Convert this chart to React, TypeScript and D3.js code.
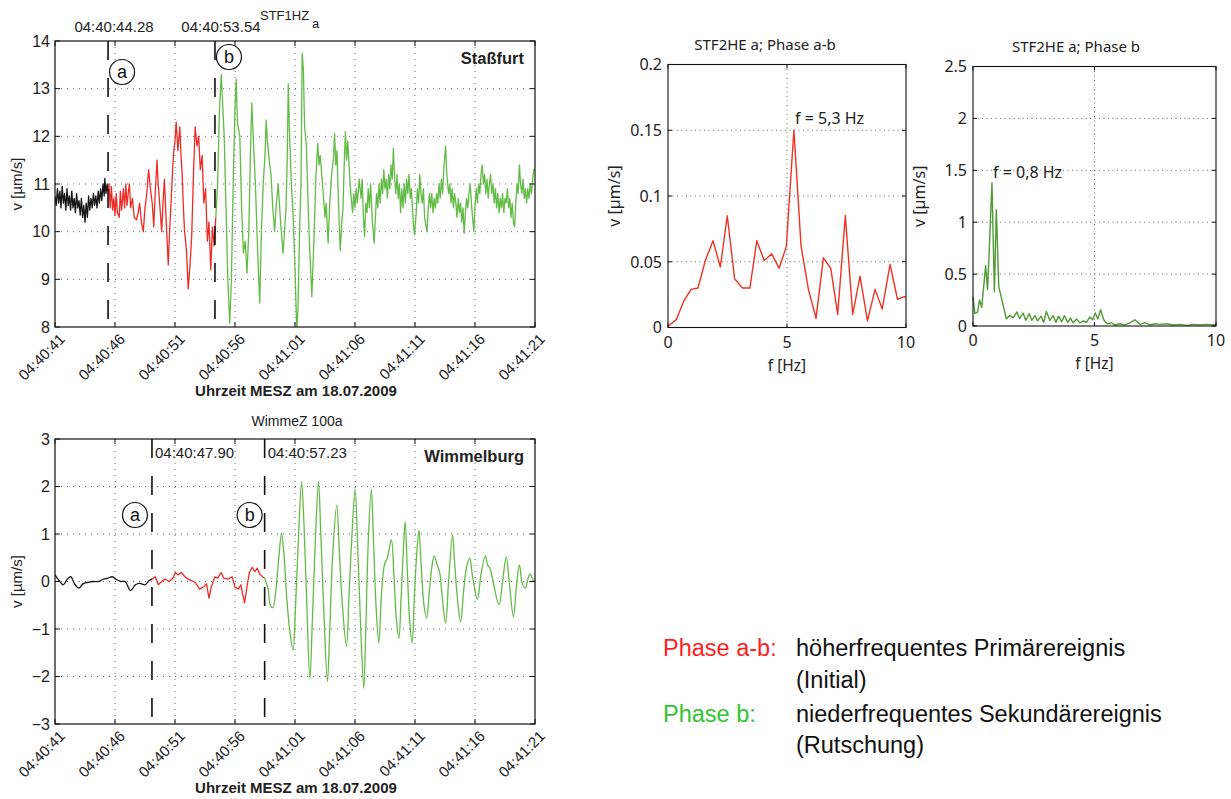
import * as d3 from "d3";

const SANS = "'Liberation Sans', Arial, sans-serif";
const SPEC_FONT = "'Noto Sans', sans-serif";
const INK = "#222";

// time axis (seconds after 04:40:41)
const timeTickSec = [0, 5, 10, 15, 20, 25, 30, 35, 40];
const timeTickLabels = ["04:40:41", "04:40:46", "04:40:51", "04:40:56", "04:41:01", "04:41:06", "04:41:11", "04:41:16", "04:41:21"];
const staYTicks = [8, 9, 10, 11, 12, 13, 14];
const wimYTicks = [-3, -2, -1, 0, 1, 2, 3];

// Staßfurt, STF1HZ a  [t (s), v (µm/s)]
const staBlack: [number, number][] = [
  [0, 10.75], [0.1, 10.55], [0.2, 10.9], [0.3, 10.6], [0.4, 10.85], [0.5, 10.5], [0.6, 10.95], [0.7, 10.6],
  [0.8, 10.8], [0.9, 10.45], [1.0, 10.9], [1.1, 10.55], [1.2, 10.75], [1.3, 10.45], [1.4, 10.85], [1.5, 10.5],
  [1.6, 10.7], [1.7, 10.4], [1.8, 10.8], [1.9, 10.5], [2.0, 10.65], [2.1, 10.35], [2.2, 10.7], [2.3, 10.3],
  [2.4, 10.55], [2.5, 10.2], [2.6, 10.6], [2.7, 10.3], [2.8, 10.75], [2.9, 10.45], [3.0, 10.7], [3.1, 10.5],
  [3.2, 10.8], [3.3, 10.55], [3.4, 10.75], [3.5, 10.5], [3.6, 10.85], [3.7, 10.6], [3.8, 10.9], [3.9, 10.65],
  [4.0, 11.0], [4.1, 10.75], [4.15, 11.12], [4.25, 10.8], [4.35, 11.0], [4.42, 10.85],
];
const staRed: [number, number][] = [
  [4.42, 10.85], [4.5, 11.0], [4.6, 10.5], [4.7, 10.95], [4.8, 10.45], [4.9, 10.7], [5.0, 10.35], [5.1, 10.8],
  [5.2, 10.4], [5.35, 10.3], [5.45, 10.85], [5.55, 10.45], [5.7, 10.9], [5.8, 10.5], [5.9, 11.0], [6.0, 10.55],
  [6.1, 10.8], [6.2, 11.0], [6.3, 10.5], [6.45, 10.7], [6.6, 10.3], [6.79, 10.25], [6.93, 10.4], [7.05, 10.6],
  [7.2, 10.2], [7.36, 10.0], [7.5, 10.5], [7.65, 10.8], [7.8, 11.3], [7.95, 10.9], [8.1, 10.6], [8.23, 10.1],
  [8.35, 10.8], [8.5, 11.5], [8.6, 11.0], [8.75, 10.5], [8.89, 10.0], [9.0, 10.6], [9.12, 11.1], [9.25, 10.3],
  [9.44, 9.3], [9.55, 10.0], [9.67, 10.6], [9.8, 11.3], [9.9, 11.7], [10.0, 11.9], [10.1, 12.3], [10.24, 11.7],
  [10.4, 12.2], [10.5, 11.6], [10.6, 11.2], [10.7, 10.5], [10.8, 10.0], [10.96, 9.6], [11.1, 8.8], [11.25, 9.3],
  [11.39, 9.9], [11.54, 11.2], [11.68, 12.2], [11.83, 11.8], [11.97, 12.0], [12.11, 11.3], [12.26, 11.6], [12.4, 10.6],
  [12.55, 10.9], [12.7, 9.8], [12.83, 10.2], [12.98, 9.2], [13.12, 10.1], [13.26, 9.7], [13.4, 10.3],
];
const staGreen: [number, number][] = [
  [13.4, 10.3], [13.55, 11.0], [13.7, 12.5], [13.85, 13.3], [13.95, 12.8], [14.1, 12.0], [14.25, 10.5], [14.4, 9.0],
  [14.56, 8.08], [14.7, 9.0], [14.85, 11.0], [15.0, 12.6], [15.1, 13.2], [15.2, 12.3], [15.4, 12.0], [15.55, 10.5],
  [15.7, 9.55], [15.85, 9.8], [16.0, 9.13], [16.15, 10.0], [16.3, 11.8], [16.4, 12.7], [16.55, 11.8], [16.7, 11.0],
  [16.9, 9.5], [17.06, 8.5], [17.2, 10.0], [17.35, 11.0], [17.5, 11.6], [17.6, 12.34], [17.7, 11.9], [17.85, 11.5],
  [18.0, 11.2], [18.15, 10.5], [18.3, 10.0], [18.45, 10.6], [18.6, 11.0], [18.7, 10.6], [18.8, 10.2], [19.0, 9.55],
  [19.1, 9.9], [19.25, 10.5], [19.35, 11.5], [19.44, 13.1], [19.55, 12.0], [19.7, 11.0], [19.85, 10.3], [20.0, 9.2],
  [20.15, 7.9], [20.25, 8.4], [20.4, 10.2], [20.5, 11.0], [20.6, 13.74], [20.7, 13.4], [20.8, 12.2], [20.95, 11.8],
  [21.1, 10.5], [21.2, 9.8], [21.4, 8.64], [21.5, 9.3], [21.6, 10.0], [21.75, 11.2], [21.9, 11.85], [22.0, 11.4],
  [22.1, 11.6], [22.2, 11.3], [22.35, 10.8], [22.5, 10.3], [22.6, 10.6], [22.76, 9.76], [22.9, 10.6], [23.05, 11.2],
  [23.2, 11.5], [23.3, 12.06], [23.4, 11.4], [23.5, 11.7], [23.6, 10.8], [23.77, 9.6], [23.9, 10.2], [24.0, 10.5],
  [24.1, 11.4], [24.2, 12.1], [24.3, 11.5], [24.4, 11.9], [24.55, 11.2], [24.65, 10.8], [24.8, 10.4], [24.9, 10.8],
  [25.0, 10.5], [25.1, 10.9], [25.2, 10.6], [25.35, 11.1], [25.5, 10.7], [25.6, 11.1], [25.7, 10.3], [25.8, 9.9],
  [25.9, 10.6], [26.0, 10.4], [26.1, 10.9], [26.2, 10.5], [26.3, 11.0], [26.45, 10.2], [26.6, 9.76], [26.7, 10.3],
  [26.8, 10.8], [26.9, 10.5], [27.0, 11.0], [27.1, 10.6], [27.2, 11.1], [27.3, 10.8], [27.4, 11.3], [27.5, 10.9],
  [27.6, 11.1], [27.7, 10.7], [27.8, 11.2], [27.9, 10.9], [28.0, 11.4], [28.1, 11.1], [28.2, 11.75], [28.3, 11.1],
  [28.4, 10.8], [28.5, 11.2], [28.6, 10.7], [28.7, 11.0], [28.8, 10.4], [28.9, 10.9], [29.0, 10.5], [29.1, 11.0],
  [29.2, 10.6], [29.3, 11.1], [29.4, 10.8], [29.5, 11.2], [29.6, 10.7], [29.7, 10.9], [29.85, 10.2], [29.96, 9.93],
  [30.1, 10.4], [30.2, 10.9], [30.3, 10.6], [30.4, 11.2], [30.5, 10.8], [30.6, 10.6], [30.7, 10.9], [30.8, 10.3],
  [31.0, 10.0], [31.1, 10.5], [31.2, 10.8], [31.3, 10.5], [31.4, 10.8], [31.5, 10.4], [31.6, 10.7], [31.7, 10.5],
  [31.8, 10.8], [31.9, 10.6], [32.0, 11.0], [32.1, 10.7], [32.2, 11.1], [32.3, 10.8], [32.4, 11.3], [32.55, 11.8],
  [32.65, 11.2], [32.8, 10.8], [32.9, 11.0], [33.0, 10.6], [33.1, 10.9], [33.2, 10.5], [33.3, 10.8], [33.4, 10.6],
  [33.5, 10.3], [33.6, 10.7], [33.7, 10.4], [33.8, 10.6], [33.9, 10.2], [34.0, 10.5], [34.1, 9.97], [34.2, 10.4],
  [34.3, 10.7], [34.4, 10.5], [34.5, 10.8], [34.6, 11.0], [34.7, 10.6], [34.8, 10.3], [34.9, 10.0], [35.0, 10.5],
  [35.1, 10.9], [35.2, 10.6], [35.3, 11.0], [35.4, 10.8], [35.5, 11.2], [35.6, 11.4], [35.7, 11.0], [35.8, 11.2],
  [35.9, 10.8], [36.0, 11.1], [36.1, 10.7], [36.2, 11.0], [36.3, 11.2], [36.4, 10.8], [36.5, 11.0], [36.6, 10.6],
  [36.7, 10.9], [36.8, 10.5], [36.9, 10.8], [37.0, 10.4], [37.1, 10.7], [37.2, 10.5], [37.3, 10.8], [37.4, 10.4],
  [37.5, 10.7], [37.6, 10.6], [37.7, 10.9], [37.8, 10.5], [37.9, 10.7], [38.0, 10.3], [38.1, 10.6], [38.2, 10.2],
  [38.3, 10.1], [38.4, 10.6], [38.5, 11.0], [38.6, 10.8], [38.7, 11.4], [38.8, 11.0], [38.9, 10.8], [39.0, 11.1],
  [39.1, 10.7], [39.2, 10.9], [39.3, 10.6], [39.4, 10.9], [39.5, 10.7], [39.6, 11.0], [39.7, 10.8], [39.8, 11.1],
  [39.9, 11.3], [40.0, 11.3],
];

// Wimmelburg, WimmeZ 100a
const wimBlack: [number, number][] = [
  [0, 0.14], [0.31, 0.03], [0.69, -0.07], [1.03, 0.05], [1.32, 0.1], [1.61, -0.04], [1.98, -0.14], [2.33, -0.05],
  [2.76, -0.02], [3.19, 0.0], [3.62, 0.0], [4.05, 0.05], [4.4, 0.07], [4.77, 0.1], [5.06, 0.05], [5.49, 0.0],
  [5.84, 0.0], [6.3, -0.19], [6.7, -0.07], [7.07, -0.04], [7.5, -0.07], [7.85, 0.02], [8.08, 0.05],
];
const wimRed: [number, number][] = [
  [8.08, 0.05], [8.37, 0.1], [8.6, -0.07], [8.89, 0.0], [9.18, 0.05], [9.52, 0.0], [9.81, 0.07], [10.04, 0.19],
  [10.24, 0.14], [10.53, 0.19], [10.82, 0.1], [11.1, 0.05], [11.39, 0.02], [11.68, -0.02], [12.05, -0.16], [12.4, -0.11],
  [12.63, -0.05], [12.83, -0.35], [13.03, -0.11], [13.32, 0.1], [13.55, 0.07], [13.84, 0.19], [14.07, 0.07], [14.41, 0.05],
  [14.76, 0.1], [14.99, -0.11], [15.28, -0.16], [15.48, -0.07], [15.65, -0.28], [15.8, -0.45], [16.0, -0.11], [16.2, 0.19],
  [16.43, 0.3], [16.66, 0.21], [16.86, 0.28], [17.06, 0.16], [17.3, 0.1], [17.47, 0.07],
];
const wimGreen: [number, number][] = [
  [17.47, 0.07], [17.75, -0.15], [17.95, -0.5], [18.15, -0.55], [18.4, -0.2], [18.65, 0.5], [18.88, 1.02], [19.1, 0.5],
  [19.3, -0.3], [19.55, -1.0], [19.83, -1.44], [20.05, -0.5], [20.3, 1.0], [20.55, 2.1], [20.75, 1.2], [20.95, -0.2],
  [21.24, -2.05], [21.45, -0.8], [21.7, 0.9], [21.96, 2.1], [22.15, 1.0], [22.4, -0.6], [22.7, -2.11], [22.9, -1.0],
  [23.15, 0.6], [23.48, 1.61], [23.7, 0.6], [23.95, -0.5], [24.29, -1.37], [24.5, -0.3], [24.75, 1.0], [25.01, 1.94],
  [25.2, 0.9], [25.45, -0.8], [25.73, -2.25], [25.9, -1.0], [26.1, 0.8], [26.36, 1.94], [26.55, 0.8], [26.75, -0.5],
  [26.99, -1.29], [27.2, -0.3], [27.45, 0.35], [27.7, 0.5], [28.03, 0.88], [28.25, 0.1], [28.45, -0.8], [28.66, -1.2],
  [28.85, -0.3], [29.0, 0.5], [29.18, 1.26], [29.35, 0.3], [29.55, -0.8], [29.76, -1.3], [29.95, -0.3], [30.15, 0.6],
  [30.33, 1.08], [30.5, 0.4], [30.75, -0.5], [30.97, -0.77], [31.2, -0.2], [31.4, 0.3], [31.6, 0.54], [31.85, 0.35],
  [32.05, 0.2], [32.3, -0.4], [32.55, -0.88], [32.8, 0.0], [33.13, 0.98], [33.3, 0.4], [33.55, -0.4], [33.8, -0.85],
  [34.05, -0.2], [34.3, 0.3], [34.56, 0.49], [34.8, 0.1], [35.2, -0.38], [35.5, 0.15], [35.86, 0.54], [36.05, 0.35],
  [36.25, 0.28], [36.5, 0.0], [37.0, -0.49], [37.3, 0.0], [37.6, 0.52], [37.85, 0.0], [38.2, -0.74], [38.45, -0.1],
  [38.7, 0.35], [38.95, -0.05], [39.2, -0.14], [39.4, 0.05], [39.6, 0.16], [39.8, 0.05], [40.0, 0.0],
];

// phase onsets (s) with their clock labels
const staOnsets = [4.42, 13.33];
const staOnsetLabels = ["04:40:44.28", "04:40:53.54"];
const wimOnsets = [8.08, 17.47];
const wimOnsetLabels = ["04:40:47.90", "04:40:57.23"];

// amplitude spectra
const specAbFreq = [0, 0.35, 0.66, 0.97, 1.26, 1.57, 1.89, 2.2, 2.49, 2.8, 3.13, 3.44, 3.73, 4.04, 4.36, 4.67, 4.97,
  5.29, 5.59, 5.9, 6.22, 6.53, 6.84, 7.13, 7.45, 7.76, 8.07, 8.38, 8.7, 9.0, 9.33, 9.64, 9.93, 10];
const specAbAmp = [0.001, 0.006, 0.02, 0.029, 0.03, 0.051, 0.066, 0.046, 0.085, 0.037, 0.03, 0.03, 0.066, 0.051, 0.056,
  0.045, 0.0615, 0.15, 0.062, 0.029, 0.007, 0.053, 0.045, 0.01, 0.085, 0.01, 0.039, 0.005, 0.029, 0.014, 0.048, 0.0215,
  0.0235, 0.023];
const specBFreq = [0, 0.08, 0.19, 0.27, 0.36, 0.52, 0.6, 0.78, 0.88, 0.96, 1.06, 1.24, 1.37, 1.51, 1.65, 1.81, 1.92,
  2.06, 2.17, 2.31, 2.42, 2.55, 2.66, 2.8, 2.91, 3.02, 3.16, 3.3, 3.41, 3.52, 3.65, 3.76, 3.9, 4.01, 4.12, 4.26, 4.4,
  4.53, 4.67, 4.81, 4.92, 5.03, 5.14, 5.25, 5.38, 5.52, 5.7, 5.84, 6.04, 6.25, 6.46, 6.66, 6.87, 7.07, 7.28, 7.49,
  7.69, 7.97, 8.24, 8.52, 8.79, 9.07, 9.34, 9.62, 10];
const specBAmp = [0.28, 0.12, 0.135, 0.25, 0.18, 0.58, 0.35, 1.38, 0.33, 1.12, 0.38, 0.2, 0.07, 0.1, 0.08, 0.135, 0.07,
  0.125, 0.055, 0.12, 0.055, 0.1, 0.05, 0.095, 0.035, 0.14, 0.055, 0.1, 0.035, 0.095, 0.04, 0.1, 0.035, 0.075, 0.03,
  0.068, 0.03, 0.048, 0.035, 0.087, 0.06, 0.125, 0.068, 0.158, 0.06, 0.022, 0.03, 0.01, 0.022, 0.01, 0.03, 0.06,
  0.016, 0.032, 0.01, 0.022, 0.016, 0.022, 0.01, 0.016, 0.006, 0.016, 0.01, 0.016, 0.01];
const specAbTicks = [0, 0.05, 0.1, 0.15, 0.2];
const specBTicks = [0, 0.5, 1, 1.5, 2, 2.5];
const freqTicks = [0, 5, 10];

const BLACK = "#151515";
const RED = "#ec2b24";
const GREEN = "#62bb46";
const SPEC_RED = "#ee3324";
const SPEC_GREEN = "#4f9a33";

const fmt = (v: number) => (v < 0 ? "\u2212" + Math.abs(v) : String(v));

type Trace = { data: [number, number][]; color: string; curve: d3.CurveFactory };

function SeismoPanel({ id, top, bottom, yDomain, yTicks, traces, onsets, onsetLabels, labelsAbove, circleY, station, title }: {
  id: string; top: number; bottom: number; yDomain: [number, number]; yTicks: number[]; traces: Trace[];
  onsets: number[]; onsetLabels: string[]; labelsAbove: boolean; circleY: number[]; station: string; title: JSX.Element;
}) {
  const x = d3.scaleLinear().domain([0, 40]).range([55, 535]);
  const y = d3.scaleLinear().domain(yDomain).range([bottom, top]);
  const [x0, x1] = x.range();
  const letters = ["a", "b"];
  const circleDx = labelsAbove ? [14, 14] : [-17, -15];

  return (
    <g>
      <defs>
        <clipPath id={id}>
          <rect x={x0} y={top} width={x1 - x0} height={bottom - top} />
        </clipPath>
      </defs>
      {/* grid */}
      {timeTickSec.slice(1, -1).map((s) => (
        <line key={"gx" + s} x1={x(s)} x2={x(s)} y1={top} y2={bottom} stroke="#555" strokeWidth={0.9} strokeDasharray="1 5" />
      ))}
      {yTicks.slice(1, -1).map((v) => (
        <line key={"gy" + v} x1={x0} x2={x1} y1={y(v)} y2={y(v)} stroke="#555" strokeWidth={0.9} strokeDasharray="1 5" />
      ))}
      {/* traces */}
      <g clipPath={`url(#${id})`}>
        {traces.map((tr, i) => {
          const line = d3.line<[number, number]>().x((d) => x(d[0])).y((d) => y(d[1])).curve(tr.curve);
          return <path key={i} d={line(tr.data) ?? ""} fill="none" stroke={tr.color} strokeWidth={1.3} strokeLinejoin="round" />;
        })}
      </g>
      {/* onset markers */}
      {onsets.map((t, i) => (
        <g key={"on" + i}>
          <line x1={x(t)} x2={x(t)} y1={top} y2={bottom - 4} stroke="#111" strokeWidth={1.6} strokeDasharray="19 18" />
          <circle cx={x(t) + circleDx[i]} cy={circleY[i]} r={12.5} fill="white" stroke="#111" strokeWidth={1.2} />
          <text x={x(t) + circleDx[i]} y={circleY[i] + 6} textAnchor="middle" fontFamily={SANS} fontSize={18} fill="#111">
            {letters[i]}
          </text>
          {labelsAbove ? (
            <text x={x(t) + 6} y={top - 9} textAnchor="middle" fontFamily={SANS} fontSize={15} fill={INK}>{onsetLabels[i]}</text>
          ) : (
            <text x={x(t) + 3} y={top + 19} fontFamily={SANS} fontSize={15} fill={INK}>{onsetLabels[i]}</text>
          )}
        </g>
      ))}
      {/* frame and ticks */}
      <rect x={x0} y={top} width={x1 - x0} height={bottom - top} fill="none" stroke="#111" strokeWidth={1.2} />
      {timeTickSec.map((s) => (
        <g key={"tx" + s}>
          <line x1={x(s)} x2={x(s)} y1={bottom} y2={bottom - 5} stroke="#111" />
          <line x1={x(s)} x2={x(s)} y1={top} y2={top + 5} stroke="#111" />
        </g>
      ))}
      {yTicks.map((v) => (
        <g key={"ty" + v}>
          <line x1={x0} x2={x0 + 5} y1={y(v)} y2={y(v)} stroke="#111" />
          <line x1={x1} x2={x1 - 5} y1={y(v)} y2={y(v)} stroke="#111" />
          <text x={x0 - 5} y={y(v)} dy="0.36em" textAnchor="end" fontFamily={SANS} fontSize={16} fill={INK}>{fmt(v)}</text>
        </g>
      ))}
      {timeTickSec.map((s, i) => (
        <text key={"lx" + s} transform={`translate(${x(s) + 11},${bottom + 13}) rotate(-45)`} textAnchor="end"
          fontFamily={SANS} fontSize={15} fill={INK}>
          {timeTickLabels[i]}
        </text>
      ))}
      <text x={x1 - 11} y={top + 23} textAnchor="end" fontFamily={SANS} fontSize={16.5} fontWeight="bold" fill={INK}>{station}</text>
      <text transform={`translate(22,${(top + bottom) / 2}) rotate(-90)`} textAnchor="middle" fontFamily={SANS} fontSize={15} fill={INK}>
        v [µm/s]
      </text>
      <text x={296} y={bottom + 69} textAnchor="middle" fontFamily={SANS} fontSize={15} fontWeight="bold" fill={INK}>
        Uhrzeit MESZ am 18.07.2009
      </text>
      {title}
    </g>
  );
}

function SpectrumPanel({ left, right, top, bottom, freq, amp, yTicks, color, title, titleX, note, noteX, noteY }: {
  left: number; right: number; top: number; bottom: number; freq: number[]; amp: number[]; yTicks: number[];
  color: string; title: string; titleX: number; note: string; noteX: number; noteY: number;
}) {
  const x = d3.scaleLinear().domain([0, 10]).range([left, right]);
  const y = d3.scaleLinear().domain([0, yTicks[yTicks.length - 1]]).range([bottom, top]);
  const line = d3.line<number>().x((_, i) => x(freq[i])).y((d) => y(d));
  return (
    <g fontFamily={SPEC_FONT} fill={INK}>
      <line x1={x(5)} x2={x(5)} y1={top} y2={bottom} stroke="#666" strokeDasharray="1 3.5" />
      {yTicks.slice(1, -1).map((v) => (
        <line key={"g" + v} x1={left} x2={right} y1={y(v)} y2={y(v)} stroke="#666" strokeDasharray="1 3.5" />
      ))}
      <path d={line(amp) ?? ""} fill="none" stroke={color} strokeWidth={1.4} strokeLinejoin="round" />
      <rect x={left} y={top} width={right - left} height={bottom - top} fill="none" stroke="#111" strokeWidth={1.1} />
      {yTicks.map((v) => (
        <g key={"t" + v}>
          <line x1={left} x2={left + 4} y1={y(v)} y2={y(v)} stroke="#111" />
          <line x1={right} x2={right - 4} y1={y(v)} y2={y(v)} stroke="#111" />
          <text x={left - 6} y={y(v)} dy="0.36em" textAnchor="end" fontSize={16}>{v}</text>
        </g>
      ))}
      {freqTicks.map((f) => (
        <g key={"f" + f}>
          <line x1={x(f)} x2={x(f)} y1={bottom} y2={bottom - 4} stroke="#111" />
          <line x1={x(f)} x2={x(f)} y1={top} y2={top + 4} stroke="#111" />
          <text x={x(f)} y={bottom + 20} textAnchor="middle" fontSize={16}>{f}</text>
        </g>
      ))}
      <text x={(left + right) / 2} y={bottom + 43} textAnchor="middle" fontSize={15.5}>f [Hz]</text>
      <text transform={`translate(${left - 48},${(top + bottom) / 2}) rotate(-90)`} textAnchor="middle" fontSize={16}>v [µm/s]</text>
      <text x={titleX} y={top - 15} textAnchor="middle" fontSize={15}>{title}</text>
      <text x={noteX} y={noteY} fontSize={16}>{note}</text>
    </g>
  );
}

export default function App() {
  return (
    <div style={{ position: "absolute", left: 0, top: 0 }}>
      <svg width={1231} height={799} style={{ display: "block", background: "white" }}>
        <SeismoPanel
          id="clipSta" top={41} bottom={327} yDomain={[8, 14]} yTicks={staYTicks}
          traces={[
            { data: staBlack, color: BLACK, curve: d3.curveLinear },
            { data: staRed, color: RED, curve: d3.curveLinear },
            { data: staGreen, color: GREEN, curve: d3.curveLinear },
          ]}
          onsets={staOnsets} onsetLabels={staOnsetLabels} labelsAbove circleY={[72, 57]} station="Staßfurt"
          title={
            <g fontFamily={SANS} fontSize={13} fill={INK}>
              <text x={260} y={20}>STF1HZ</text>
              <text x={312} y={28}>a</text>
            </g>
          }
        />
        <SeismoPanel
          id="clipWim" top={439} bottom={724} yDomain={[-3, 3]} yTicks={wimYTicks}
          traces={[
            { data: wimBlack, color: BLACK, curve: d3.curveCatmullRom.alpha(0.5) },
            { data: wimRed, color: RED, curve: d3.curveLinear },
            { data: wimGreen, color: GREEN, curve: d3.curveCatmullRom.alpha(0.5) },
          ]}
          onsets={wimOnsets} onsetLabels={wimOnsetLabels} labelsAbove={false} circleY={[515, 515]} station="Wimmelburg"
          title={<text x={297} y={426} textAnchor="middle" fontFamily={SANS} fontSize={14} fill={INK}>WimmeZ 100a</text>}
        />
        <SpectrumPanel left={668} right={906} top={64.5} bottom={327.5} freq={specAbFreq} amp={specAbAmp} yTicks={specAbTicks}
          color={SPEC_RED} title="STF2HE a; Phase a-b" titleX={765} note="f = 5,3 Hz" noteX={795} noteY={124} />
        <SpectrumPanel left={973} right={1216} top={66.5} bottom={326} freq={specBFreq} amp={specBAmp} yTicks={specBTicks}
          color={SPEC_GREEN} title="STF2HE a; Phase b" titleX={1076} note="f = 0,8 Hz" noteX={993} noteY={178} />
        <g fontFamily={SANS} fontSize={23.5} fill="#111">
          <text x={663} y={656} fill="#ff1e1e">Phase a-b:</text>
          <text x={796} y={656}>höherfrequentes Primärereignis</text>
          <text x={796} y={688}>(Initial)</text>
          <text x={663} y={722} fill="#33c433">Phase b:</text>
          <text x={796} y={722}>niederfrequentes Sekundärereignis</text>
          <text x={796} y={753}>(Rutschung)</text>
        </g>
      </svg>
    </div>
  );
}
